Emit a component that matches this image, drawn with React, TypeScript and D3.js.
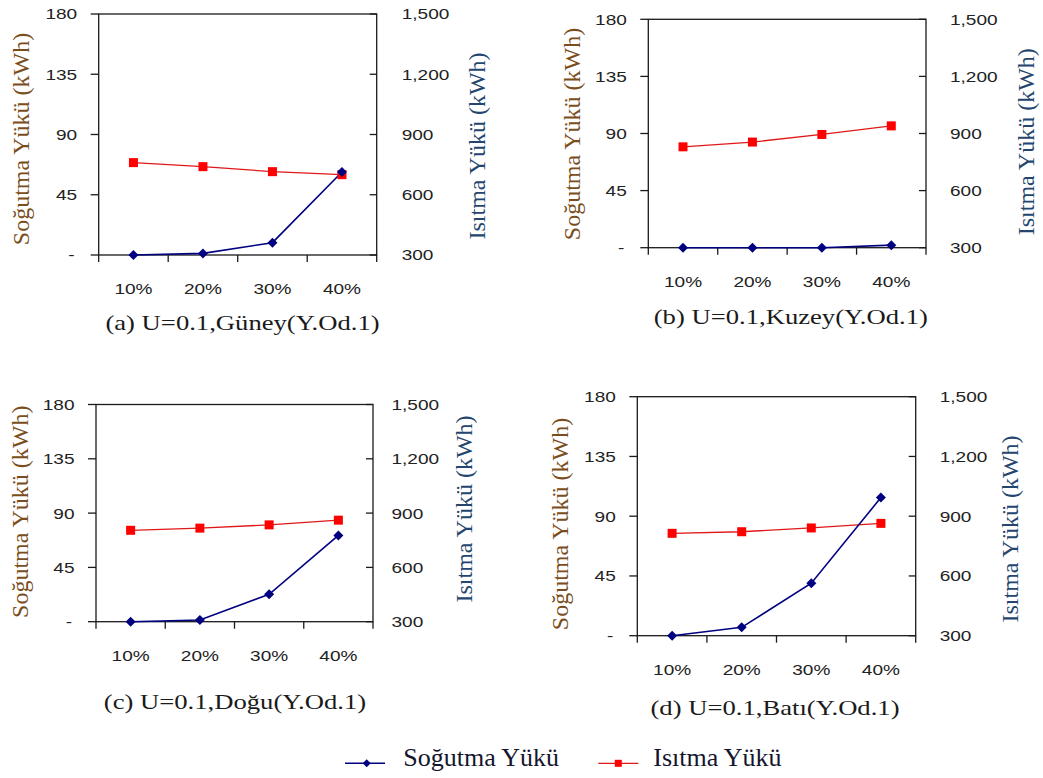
import React, { useEffect, useRef } from "react";
import * as d3 from "d3";

const categories = ["10%", "20%", "30%", "40%"];
const coolingTicks = [0, 45, 90, 135, 180];
const coolingTickLabels = ["-", "45", "90", "135", "180"];
const heatingTicks = [300, 600, 900, 1200, 1500];
const heatingTickLabels = ["300", "600", "900", "1,200", "1,500"];

const captions = [
  "(a) U=0.1,Güney(Y.Od.1)",
  "(b) U=0.1,Kuzey(Y.Od.1)",
  "(c) U=0.1,Doğu(Y.Od.1)",
  "(d) U=0.1,Batı(Y.Od.1)",
];

// Soğutma Yükü (kWh), left axis
const coolingGuney = [0, 1.2, 9.2, 62];
const coolingKuzey = [0, 0, 0, 2];
const coolingDogu = [0, 1.4, 22.7, 71.5];
const coolingBati = [0, 6.3, 39.5, 104];

// Isıtma Yükü (kWh), right axis
const heatingGuney = [760, 740, 715, 700];
const heatingKuzey = [830, 855, 895, 940];
const heatingDogu = [805, 817, 835, 861];
const heatingBati = [814, 822, 841, 864];

const seriesNames = ["Soğutma Yükü", "Isıtma Yükü"];
const leftTitle = "Soğutma Yükü (kWh)";
const rightTitle = "Isıtma Yükü (kWh)";

const W = 1043;
const H = 778;
const SANS = "Liberation Sans, Arial, sans-serif";
const SERIF = "Liberation Serif, Times New Roman, serif";
const NAVY = "#000080";
const RED = "#ff0000";
const AXIS = "#1a1a1a";

// where each panel sits on the page
const layout = [
  { left: 98.7, right: 376.7, top: 14, bottom: 255, cap: [242.5, 330], lt: [22.5, 139], rt: [478.3, 146], rl: 25 },
  { left: 648.3, right: 926, top: 19.3, bottom: 247.7, cap: [790.8, 324], lt: [573.3, 134], rt: [1028, 141.7], rl: 24 },
  { left: 96, right: 373, top: 404.5, bottom: 621.7, cap: [235, 709], lt: [21.7, 511.7], rt: [466, 509], rl: 18.5 },
  { left: 637.3, right: 915.7, top: 396.7, bottom: 635.7, cap: [775, 715], lt: [561.7, 524], rt: [1012, 529], rl: 24 },
];

const panelData = [
  { cooling: coolingGuney, heating: heatingGuney },
  { cooling: coolingKuzey, heating: heatingKuzey },
  { cooling: coolingDogu, heating: heatingDogu },
  { cooling: coolingBati, heating: heatingBati },
];

type Opts = {
  size: number;
  family: string;
  fill: string;
  anchor?: string;
  sx?: number;
  rot?: number;
  dy?: string;
};

function addText(g: any, s: string, x: number, y: number, o: Opts) {
  g.append("text")
    .attr(
      "transform",
      `translate(${x},${y}) scale(${o.sx ?? 1},1)${o.rot ? ` rotate(${o.rot})` : ""}`
    )
    .style("font-family", o.family)
    .style("font-size", `${o.size}px`)
    .attr("fill", o.fill)
    .attr("text-anchor", o.anchor ?? "start")
    .attr("dy", o.dy ?? "0")
    .text(s);
}

function drawPanel(svg: any, i: number) {
  const p = layout[i];
  const d = panelData[i];
  const g = svg.append("g");

  const x = d3.scaleBand<string>().domain(categories).range([p.left, p.right]);
  const yL = d3.scaleLinear().domain([0, 180]).range([p.bottom, p.top]);
  const yR = d3.scaleLinear().domain([300, 1500]).range([p.bottom, p.top]);
  const cx = (c: string) => (x(c) as number) + x.bandwidth() / 2;

  const tickStyle = { size: 15, family: SANS, fill: "#222", sx: 1.27, dy: "0.36em" };

  // left axis ticks (outside) + labels
  coolingTicks.forEach((t, k) => {
    g.append("line")
      .attr("x1", p.left - 8).attr("x2", p.left)
      .attr("y1", yL(t)).attr("y2", yL(t))
      .attr("stroke", AXIS).attr("stroke-width", 1.3);
    addText(g, coolingTickLabels[k], p.left - (t === 0 ? 24 : 21.5), yL(t), {
      ...tickStyle,
      anchor: "end",
    });
  });

  // right axis ticks (inside) + labels
  heatingTicks.forEach((t, k) => {
    g.append("line")
      .attr("x1", p.right - 7).attr("x2", p.right)
      .attr("y1", yR(t)).attr("y2", yR(t))
      .attr("stroke", AXIS).attr("stroke-width", 1.3);
    addText(g, heatingTickLabels[k], p.right + p.rl, yR(t), tickStyle);
  });

  // x ticks at band edges
  const edges = categories.map((c) => x(c) as number).concat([p.right]);
  edges.forEach((e) => {
    g.append("line")
      .attr("x1", e).attr("x2", e)
      .attr("y1", p.bottom).attr("y2", p.bottom + 7)
      .attr("stroke", AXIS).attr("stroke-width", 1.3);
  });
  categories.forEach((c) => {
    addText(g, c, cx(c), p.bottom + 39, { ...tickStyle, anchor: "middle", dy: "0" });
  });

  // plot frame
  g.append("rect")
    .attr("x", p.left).attr("y", p.top)
    .attr("width", p.right - p.left).attr("height", p.bottom - p.top)
    .attr("fill", "none").attr("stroke", AXIS).attr("stroke-width", 1.3);

  // series
  const lineL = d3.line<number>().x((_, k) => cx(categories[k])).y((v) => yL(v));
  const lineR = d3.line<number>().x((_, k) => cx(categories[k])).y((v) => yR(v));

  g.append("path")
    .attr("d", lineR(d.heating))
    .attr("fill", "none").attr("stroke", "#e01818").attr("stroke-width", 1.3);
  g.append("path")
    .attr("d", lineL(d.cooling))
    .attr("fill", "none").attr("stroke", NAVY).attr("stroke-width", 1.6);

  const square = d3.symbol().type(d3.symbolSquare).size(81);
  d.heating.forEach((v, k) => {
    g.append("path")
      .attr("d", square())
      .attr("transform", `translate(${cx(categories[k])},${yR(v)})`)
      .attr("fill", RED);
  });
  const diamond = d3.symbol().type(d3.symbolSquare).size(50);
  d.cooling.forEach((v, k) => {
    g.append("path")
      .attr("d", diamond())
      .attr("transform", `translate(${cx(categories[k])},${yL(v)}) rotate(45)`)
      .attr("fill", NAVY);
  });

  // axis titles
  addText(g, leftTitle, p.lt[0], p.lt[1], {
    size: 24, family: SERIF, fill: "#7a4e1c", anchor: "middle", rot: -90, dy: "0.27em",
  });
  addText(g, rightTitle, p.rt[0], p.rt[1], {
    size: 24, family: SERIF, fill: "#24466e", anchor: "middle", rot: -90, dy: "0.27em",
  });

  // caption
  addText(g, captions[i], p.cap[0], p.cap[1], {
    size: 20.5, family: SERIF, fill: "#1a1a1a", anchor: "middle", sx: 1.3,
  });
}

function drawLegend(svg: any) {
  const g = svg.append("g");
  const ly = 763.3;
  // cooling
  g.append("line").attr("x1", 345).attr("x2", 385).attr("y1", ly).attr("y2", ly)
    .attr("stroke", NAVY).attr("stroke-width", 1.6);
  g.append("path")
    .attr("d", d3.symbol().type(d3.symbolSquare).size(32)())
    .attr("transform", `translate(366.7,${ly}) rotate(45)`)
    .attr("fill", NAVY);
  addText(g, seriesNames[0], 403.3, 766, { size: 26, family: SERIF, fill: "#15152e" });
  // heating
  g.append("line").attr("x1", 598.3).attr("x2", 638.3).attr("y1", ly).attr("y2", ly)
    .attr("stroke", "#e01818").attr("stroke-width", 1.3);
  g.append("path")
    .attr("d", d3.symbol().type(d3.symbolSquare).size(49)())
    .attr("transform", `translate(618.3,${ly})`)
    .attr("fill", RED);
  addText(g, seriesNames[1], 653.3, 766, { size: 26, family: SERIF, fill: "#15152e" });
}

export default function App() {
  const ref = useRef<SVGSVGElement>(null);
  useEffect(() => {
    const svg = d3.select(ref.current);
    svg.selectAll("*").remove();
    layout.forEach((_, i) => drawPanel(svg, i));
    drawLegend(svg);
  }, []);
  return (
    <svg
      ref={ref}
      width={W}
      height={H}
      style={{ position: "absolute", left: 0, top: 0, background: "#fff" }}
    />
  );
}
